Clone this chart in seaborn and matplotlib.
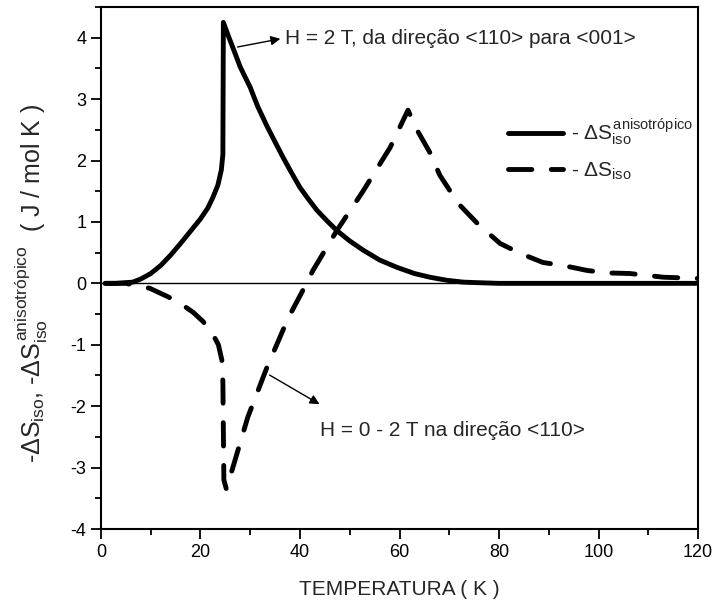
import pandas as pd
import matplotlib
matplotlib.use('Agg')
import matplotlib.pyplot as plt
import seaborn as sns
from matplotlib.ticker import MultipleLocator

# curva solida: -dS anisotropico
temp_aniso = [0.8, 3, 6.4, 8, 10, 12, 14, 16, 18, 20, 21.5, 22.5, 23.5, 24.2, 24.5, 24.6,
              25.5, 26.5, 28, 30, 31.5, 33.3, 35, 36.6, 38.3, 40, 41.7, 43.4, 45.4, 47.4, 50,
              52.7, 56, 59.5, 63, 66.1, 69.5, 72.8, 76, 80, 90, 100, 110, 120]
ds_aniso = [0, 0, 0.02, 0.07, 0.16, 0.29, 0.46, 0.65, 0.85, 1.05, 1.23, 1.40, 1.6, 1.85, 2.1, 4.25,
            4.05, 3.84, 3.52, 3.19, 2.88, 2.57, 2.3, 2.05, 1.8, 1.56, 1.37, 1.19, 1.02, 0.86, 0.69,
            0.54, 0.38, 0.26, 0.16, 0.1, 0.05, 0.02, 0.01, 0, 0, 0, 0, 0]

# curva tracejada: -dS iso
temp_iso = [1, 5, 9.8, 13.5, 16, 18.5, 20.5, 22.3, 23.6, 24.3, 24.5, 24.7, 25.2, 26.5, 29.5,
            33.3, 37.6, 40.6, 42.6, 47.4, 52.5, 58.1, 61.7, 63.5, 66.1, 68.1, 71.8, 75.6, 80.2,
            84.2, 88.8, 92.9, 97.7, 101.7, 106.3, 113, 120]
ds_iso = [0, 0, -0.08, -0.22, -0.33, -0.47, -0.62, -0.8, -1.0, -1.25, -1.6, -3.2, -3.35, -3.0, -2.18,
          -1.38, -0.57, -0.11, 0.21, 0.86, 1.48, 2.21, 2.82, 2.5, 2.13, 1.76, 1.30, 0.98, 0.65,
          0.49, 0.34, 0.29, 0.21, 0.17, 0.16, 0.1, 0.08]

df_aniso = pd.DataFrame({'T': temp_aniso, 'dS': ds_aniso})
df_iso = pd.DataFrame({'T': temp_iso, 'dS': ds_iso})

sns.set_style('ticks')
plt.rcParams['font.family'] = ['Liberation Sans', 'DejaVu Sans']
plt.rcParams['mathtext.fontset'] = 'custom'
plt.rcParams['mathtext.rm'] = 'Liberation Sans'
plt.rcParams['mathtext.it'] = 'Liberation Sans'
plt.rcParams['mathtext.bf'] = 'Liberation Sans:bold'
plt.rcParams['axes.unicode_minus'] = False

fig = plt.figure(figsize=(7.16, 6.12), dpi=100)
ax = fig.add_axes([0.141, 0.1356, 0.834, 0.853])

ax.axhline(0, color='black', lw=1, zorder=1)

sns.lineplot(data=df_aniso, x='T', y='dS', estimator=None, sort=False, ax=ax,
             color='black', lw=3.5, label=r'- $\Delta S_{iso}^{anisotrópico}$')
sns.lineplot(data=df_iso, x='T', y='dS', estimator=None, sort=False, ax=ax,
             color='black', lw=3.5, label=r'- $\Delta S_{iso}$')
ax.lines[-1].set_dashes((4.8, 4))
ax.lines[-1].set_dash_capstyle('round')
ax.lines[-2].set_solid_capstyle('round')
ax.lines[-2].set_solid_joinstyle('round')

ax.set_xlim(0, 120)
ax.set_ylim(-4, 4.5)
ax.xaxis.set_major_locator(MultipleLocator(20))
ax.xaxis.set_minor_locator(MultipleLocator(10))
ax.yaxis.set_major_locator(MultipleLocator(1))
ax.yaxis.set_minor_locator(MultipleLocator(0.5))
ax.tick_params(which='both', direction='out', top=False, right=False, width=1.3, colors='black')
ax.tick_params(which='major', length=7, labelsize=13)
ax.tick_params(which='minor', length=4)
for s in ax.spines.values():
    s.set_linewidth(1.5)
    s.set_color('black')

ax.set_xlabel('TEMPERATURA ( K )', fontsize=15, labelpad=14)
ax.set_ylabel(r'-$\Delta S_{iso}$, -$\Delta S_{iso}^{anisotrópico}$  ( J / mol K )', fontsize=18)
ax.yaxis.set_label_coords(-0.085, 0.47)

ax.annotate('H = 2 T, da direção <110> para <001>', xy=(36.5, 3.99), xytext=(37, 3.99),
            fontsize=15, va='center', ha='left')
ax.annotate('', xy=(36.6, 3.99), xytext=(26.9, 3.84),
            arrowprops=dict(arrowstyle='-|>', color='black', lw=1, mutation_scale=14))
ax.annotate('H = 0 - 2 T na direção <110>', xy=(44, -2.39), xytext=(44, -2.39),
            fontsize=15, va='center', ha='left')
ax.annotate('', xy=(44.4, -1.99), xytext=(33.4, -1.47),
            arrowprops=dict(arrowstyle='-|>', color='black', lw=1, mutation_scale=14))

ax.legend(loc='upper left', bbox_to_anchor=(0.665, 0.81), frameon=False, fontsize=15,
          handlelength=2.6, handletextpad=0.4, labelspacing=0.6, borderpad=0)

fig.savefig('out.png', dpi=100)
